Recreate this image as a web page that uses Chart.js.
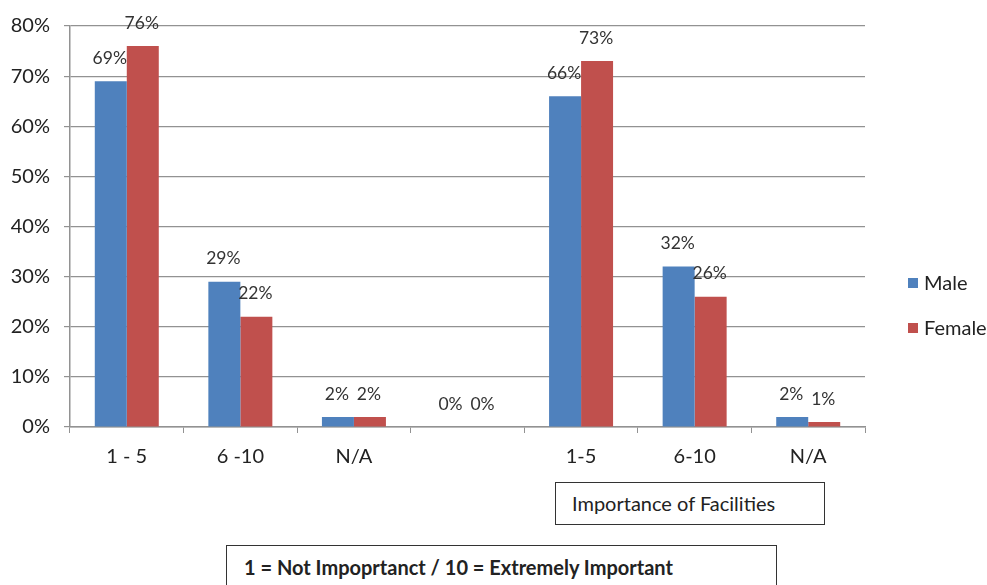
<!DOCTYPE html>
<html>
<head>
<meta charset="utf-8">
<script src="https://cdn.jsdelivr.net/npm/chart.js@4/dist/chart.umd.min.js"></script>
<style>
  html, body { margin: 0; padding: 0; background: #fff; }
  #wrap { position: relative; width: 987px; height: 585px; overflow: hidden; font-family: Lato, sans-serif; color: #222; }
  #chart { position: absolute; left: 0; top: 0; }
  .legend { position: absolute; left: 908px; font-size: 20px; white-space: nowrap; }
  .legend span.sw { display: inline-block; width: 10px; height: 10px; margin-right: 6px; vertical-align: 2px; }
  .box { position: absolute; border: 1.5px solid #333; background: #fff; box-sizing: border-box; white-space: nowrap; }
  #facilities { left: 555px; top: 482px; width: 270px; height: 43px; font-size: 20px; padding: 8px 0 0 16px; }
  #scale { left: 226px; top: 545px; width: 551px; height: 60px; font-size: 20px; font-weight: bold; padding: 9px 0 0 17px; }
</style>
</head>
<body>
<div id="wrap">
  <canvas id="chart" width="987" height="585"></canvas>
  <div id="legend"></div>
  <div class="box" id="facilities">Importance of Facilities</div>
  <div class="box" id="scale">1 = Not Impoprtanct / 10 = Extremely Important</div>
</div>
<script>
const categories = ['1 - 5', '6 -10', 'N/A', '', '1-5', '6-10', 'N/A']
const male = [69, 29, 2, 0, 66, 32, 2]
const female = [76, 22, 2, 0, 73, 26, 1]
const yTicks = [0, 10, 20, 30, 40, 50, 60, 70, 80]

const MALE_COLOR = '#4F81BD'
const FEMALE_COLOR = '#C0504D'
const GRID = '#929292'

// value labels above each bar
const barLabels = {
  id: 'barLabels',
  afterDatasetsDraw (chart) {
    const ctx = chart.ctx
    ctx.save()
    ctx.font = '17.5px Lato, sans-serif'
    ctx.fillStyle = '#333'
    ctx.textAlign = 'center'
    ctx.textBaseline = 'middle'
    chart.data.datasets.forEach((ds, i) => {
      chart.getDatasetMeta(i).data.forEach((bar, j) => {
        ctx.fillText(ds.data[j] + '%', bar.x - 1, bar.y - 23)
      })
    })
    ctx.restore()
  }
}

const chart = new Chart(document.getElementById('chart'), {
  type: 'bar',
  data: {
    labels: categories,
    datasets: [
      { label: 'Male', data: male, backgroundColor: MALE_COLOR },
      { label: 'Female', data: female, backgroundColor: FEMALE_COLOR }
    ]
  },
  options: {
    responsive: false,
    animation: false,
    layout: { padding: { left: 0, top: 24, right: 122, bottom: 114 } },
    datasets: { bar: { categoryPercentage: 0.5635, barPercentage: 1.0 } },
    plugins: {
      legend: { display: false },
      tooltip: { enabled: false }
    },
    scales: {
      x: {
        grid: { offset: true, drawOnChartArea: false, drawTicks: true, tickLength: 6, color: GRID },
        border: { color: GRID, width: 1.5 },
        ticks: { color: '#222', font: { family: 'Lato', size: 20 }, padding: 12, maxRotation: 0, autoSkip: false },
        afterFit: (scale) => { scale.height = 44 }
      },
      y: {
        min: 0,
        max: 80,
        afterBuildTicks: (scale) => { scale.ticks = yTicks.map(v => ({ value: v })) },
        grid: { color: GRID, lineWidth: 1.2, tickLength: 6 },
        border: { color: GRID, width: 1.5 },
        ticks: { color: '#222', font: { family: 'Lato', size: 20 }, padding: 14, callback: v => v + '%' },
        afterFit: (scale) => { scale.width = 70 }
      }
    }
  },
  plugins: [barLabels]
})

// legend from dataset names/colours
const legendEl = document.getElementById('legend')
chart.data.datasets.forEach((ds, i) => {
  const d = document.createElement('div')
  d.className = 'legend'
  d.style.top = (270 + i * 45) + 'px'
  d.innerHTML = '<span class="sw" style="background:' + ds.backgroundColor + '"></span>' + ds.label
  legendEl.appendChild(d)
})
</script>
</body>
</html>
